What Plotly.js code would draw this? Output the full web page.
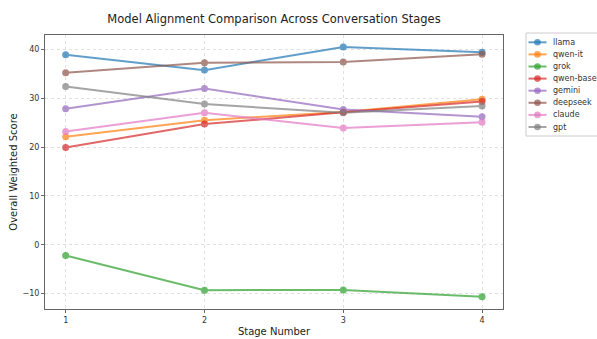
<!DOCTYPE html>
<html><head><meta charset="utf-8">
<script src="https://cdn.plot.ly/plotly-3.0.1.min.js"></script>
<style>html,body{margin:0;padding:0;background:#fff}</style>
</head><body><div id="chart" style="width:597px;height:339px"></div>
<script>
const stages = [1, 2, 3, 4];
const models = ["llama", "qwen-it", "grok", "qwen-base", "gemini", "deepseek", "claude", "gpt"];
const llama = [38.9, 35.75, 40.5, 39.4];
const qwenIt = [22.1, 25.5, 27.2, 29.8];
const grok = [-2.2, -9.3, -9.25, -10.65];
const qwenBase = [19.9, 24.7, 27.1, 29.3];
const gemini = [27.85, 32.0, 27.7, 26.2];
const deepseek = [35.2, 37.25, 37.4, 39.0];
const claude = [23.2, 27.0, 23.9, 25.1];
const gpt = [32.4, 28.8, 27.0, 28.4];
const series = [llama, qwenIt, grok, qwenBase, gemini, deepseek, claude, gpt];
const colors = ["#1f77b4", "#ff7f0e", "#2ca02c", "#d62728", "#9467bd", "#8c564b", "#e377c2", "#7f7f7f"];

const traces = models.map((m, i) => ({
  x: stages, y: series[i], name: m, type: "scatter", mode: "lines+markers",
  line: {color: colors[i], width: 2}, marker: {color: colors[i], size: 7},
  opacity: 0.7, showlegend: false
}));

// Plot area in pixels (for the hand-built compact legend)
const W = 597, H = 339, L = 45, R = 94, T = 35, B = 30;
const pw = W - L - R, ph = H - T - B;
const px = v => (v - L) / pw;
const py = v => (H - B - v) / ph;

const shapes = [];
const annotations = [];
shapes.push({type: "rect", xref: "paper", yref: "paper", x0: px(526), x1: px(604), y0: py(136), y1: py(33),
  line: {color: "#cccccc", width: 1}, fillcolor: "rgba(255,255,255,0.8)", layer: "above"});
models.forEach((m, i) => {
  const yy = 42.3 + i * 12.1;
  shapes.push({type: "line", xref: "paper", yref: "paper", x0: px(528.5), x1: px(546.5), y0: py(yy), y1: py(yy),
    line: {color: colors[i], width: 2}, opacity: 0.7, layer: "above"});
  shapes.push({type: "circle", xref: "paper", yref: "paper", xsizemode: "pixel", ysizemode: "pixel",
    xanchor: px(537.5), yanchor: py(yy), x0: -3.3, x1: 3.3, y0: -3.3, y1: 3.3,
    fillcolor: colors[i], line: {width: 0}, opacity: 0.7, layer: "above"});
  annotations.push({xref: "paper", yref: "paper", x: px(550.5), y: py(yy), xanchor: "left", yanchor: "middle",
    text: m, showarrow: false, font: {size: 8, color: "#333"}});
});

const font = "DejaVu Sans, sans-serif";
const layout = {
  width: W, height: H,
  margin: {l: L, r: R, t: T, b: B},
  paper_bgcolor: "#fff", plot_bgcolor: "#fff",
  font: {family: font, size: 8, color: "#333"},
  title: {text: "Model Alignment Comparison Across Conversation Stages", font: {family: font, size: 11.5, color: "#222"}, x: 274 / 597, xref: "container", y: 0.955, yref: "container", xanchor: "center"},
  xaxis: {
    range: [0.851, 4.151], tickvals: stages, ticktext: stages.map(String),
    showgrid: true, gridcolor: "#e0e0e0", griddash: "3px,3px", gridwidth: 1,
    zeroline: false, showline: true, linecolor: "#666", linewidth: 1, mirror: true,
    ticks: "outside", ticklen: 3, tickcolor: "#666",
    tickfont: {size: 8, color: "#333"},
    title: {text: "Stage Number", font: {size: 10, color: "#222"}, standoff: 4}
  },
  yaxis: {
    range: [-13.16, 42.94], tickvals: [-10, 0, 10, 20, 30, 40],
    showgrid: true, gridcolor: "#e0e0e0", griddash: "3px,3px", gridwidth: 1,
    zeroline: false, showline: true, linecolor: "#666", linewidth: 1, mirror: true,
    ticks: "outside", ticklen: 3, tickcolor: "#666",
    tickfont: {size: 8, color: "#333"},
    title: {text: "Overall Weighted Score", font: {size: 10, color: "#222"}, standoff: 3}
  },
  shapes: shapes,
  annotations: annotations,
  showlegend: false
};
Plotly.newPlot("chart", traces, layout, {displayModeBar: false});
</script></body></html>
